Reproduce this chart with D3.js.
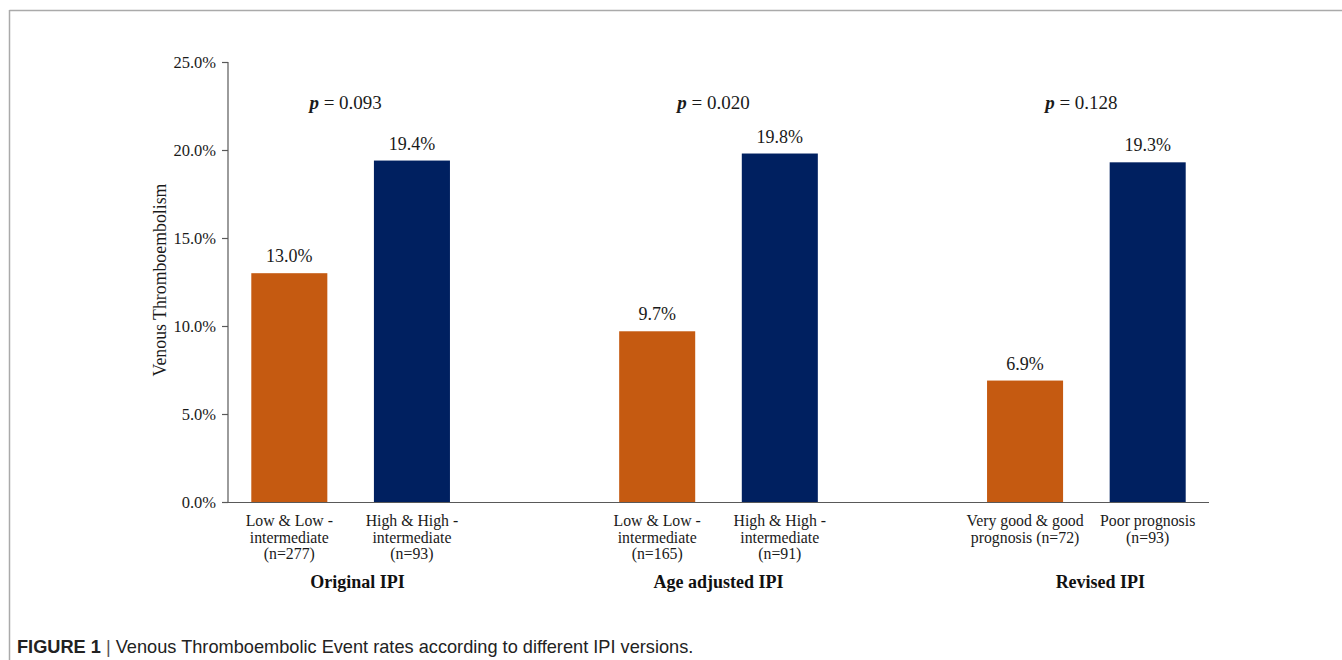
<!DOCTYPE html>
<html>
<head>
<meta charset="utf-8">
<script src="https://cdn.jsdelivr.net/npm/d3@7"></script>
<style>
  body { margin: 0; background: #fff; }
  svg { display: block; }
</style>
</head>
<body>
<div id="chart"></div>
<script>
// Data
const groups = ["Original IPI", "Age adjusted IPI", "Revised IPI"];
const pValues = ["0.093", "0.020", "0.128"];
const lowLabels = [
  ["Low & Low -", "intermediate", "(n=277)"],
  ["Low & Low -", "intermediate", "(n=165)"],
  ["Very good & good", "prognosis (n=72)"]
];
const highLabels = [
  ["High & High -", "intermediate", "(n=93)"],
  ["High & High -", "intermediate", "(n=91)"],
  ["Poor prognosis", "(n=93)"]
];
const lowValues = [13.0, 9.7, 6.9];
const highValues = [19.4, 19.8, 19.3];
const yTicks = [0, 5, 10, 15, 20, 25];

// Dimensions
const width = 1342;
const height = 660;
const plotLeft = 228, plotRight = 1209, plotTop = 62, plotBottom = 502;
// small horizontal nudges of the group titles, as in the original
const groupLabelShift = [7, 0, 14];

const svg = d3.select("#chart").append("svg")
  .attr("width", width)
  .attr("height", height);

// frame lines
svg.append("line").attr("x1", 9.5).attr("x2", width).attr("y1", 10.5).attr("y2", 10.5)
  .attr("stroke", "#aaa").attr("stroke-width", 1.5);
svg.append("line").attr("x1", 9.5).attr("x2", 9.5).attr("y1", 10).attr("y2", height)
  .attr("stroke", "#aaa").attr("stroke-width", 1.5);

// bars list: low, high, gap per group (Excel-like blank category)
let bars = [];
let domain = [];
groups.forEach((g, i) => {
  bars.push({key: "L" + i, group: i, value: lowValues[i], label: lowLabels[i], kind: "low"});
  bars.push({key: "H" + i, group: i, value: highValues[i], label: highLabels[i], kind: "high"});
  domain.push("L" + i, "H" + i);
  if (i < groups.length - 1) domain.push("gap" + i);
});

const x = d3.scaleBand().domain(domain).range([plotLeft, plotRight]).paddingInner(0.38).paddingOuter(0.19);
const y = d3.scaleLinear().domain([0, 25]).range([plotBottom, plotTop]);

const serif = "'Liberation Serif', 'Times New Roman', serif";
const textCol = "#1a1a1a";

// Y axis
const yAxis = svg.append("g")
  .attr("transform", "translate(" + plotLeft + ",0)")
  .call(d3.axisLeft(y).tickValues(yTicks).tickSize(6).tickPadding(6)
    .tickFormat(d => d.toFixed(1) + "%"));
yAxis.selectAll("path, line").attr("stroke", "#595959").attr("stroke-width", 1.2);
yAxis.select(".domain").attr("d", "M0," + plotTop + "V" + plotBottom);
yAxis.selectAll("text").attr("font-family", serif).attr("font-size", 16.5).attr("fill", textCol);

// X axis line
svg.append("line")
  .attr("x1", plotLeft).attr("x2", plotRight)
  .attr("y1", plotBottom + 0.5).attr("y2", plotBottom + 0.5)
  .attr("stroke", "#595959").attr("stroke-width", 1.2);

// axis title
svg.append("text")
  .attr("transform", "translate(166,280) rotate(-90)")
  .attr("text-anchor", "middle")
  .attr("font-family", serif).attr("font-size", 17.8).attr("fill", textCol)
  .text("Venous Thromboembolism");

// bars
svg.selectAll("rect.bar")
  .data(bars).enter()
  .append("rect")
  .attr("class", "bar")
  .attr("x", d => x(d.key))
  .attr("width", x.bandwidth())
  .attr("y", d => y(d.value))
  .attr("height", d => y(0) - y(d.value))
  .attr("fill", d => d.kind === "low" ? "#C55A11" : "#002060");

// value labels
svg.selectAll("text.val")
  .data(bars).enter()
  .append("text")
  .attr("class", "val")
  .attr("x", d => x(d.key) + x.bandwidth() / 2)
  .attr("y", d => y(d.value) - 11)
  .attr("text-anchor", "middle")
  .attr("font-family", serif).attr("font-size", 18).attr("fill", textCol)
  .text(d => d.value.toFixed(1) + "%");

// category labels
const catG = svg.selectAll("text.cat")
  .data(bars).enter()
  .append("text")
  .attr("class", "cat")
  .attr("text-anchor", "middle")
  .attr("font-family", serif).attr("font-size", 15.8).attr("fill", textCol);
catG.selectAll("tspan")
  .data(d => d.label.map(t => ({t: t, cx: x(d.key) + x.bandwidth() / 2})))
  .enter().append("tspan")
  .attr("x", d => d.cx)
  .attr("y", (d, i) => 526 + i * 16.5)
  .text(d => d.t);

// group centers
const groupCenter = i => (x("L" + i) + x("H" + i) + x.bandwidth()) / 2;

// group labels
svg.selectAll("text.grp")
  .data(groups).enter()
  .append("text")
  .attr("class", "grp")
  .attr("x", (d, i) => groupCenter(i) + groupLabelShift[i])
  .attr("y", 588)
  .attr("text-anchor", "middle")
  .attr("font-family", serif).attr("font-size", 18).attr("font-weight", "bold").attr("fill", "#111")
  .text(d => d);

// p values
const pText = svg.selectAll("text.pv")
  .data(pValues).enter()
  .append("text")
  .attr("class", "pv")
  .attr("x", (d, i) => groupCenter(i) - 5)
  .attr("y", 109)
  .attr("text-anchor", "middle")
  .attr("font-family", serif).attr("font-size", 19).attr("fill", textCol);
pText.append("tspan").attr("font-weight", "bold").attr("font-style", "italic").text("p");
pText.append("tspan").text(d => " = " + d);

// caption
const cap = svg.append("text")
  .attr("x", 17).attr("y", 653)
  .attr("font-family", "'Liberation Sans', Arial, sans-serif")
  .attr("font-size", 18.2).attr("fill", "#222");
cap.append("tspan").attr("font-weight", "bold").text("FIGURE 1");
cap.append("tspan").attr("fill", "#555").text(" | ");
cap.append("tspan").text("Venous Thromboembolic Event rates according to different IPI versions.");
</script>
</body>
</html>
